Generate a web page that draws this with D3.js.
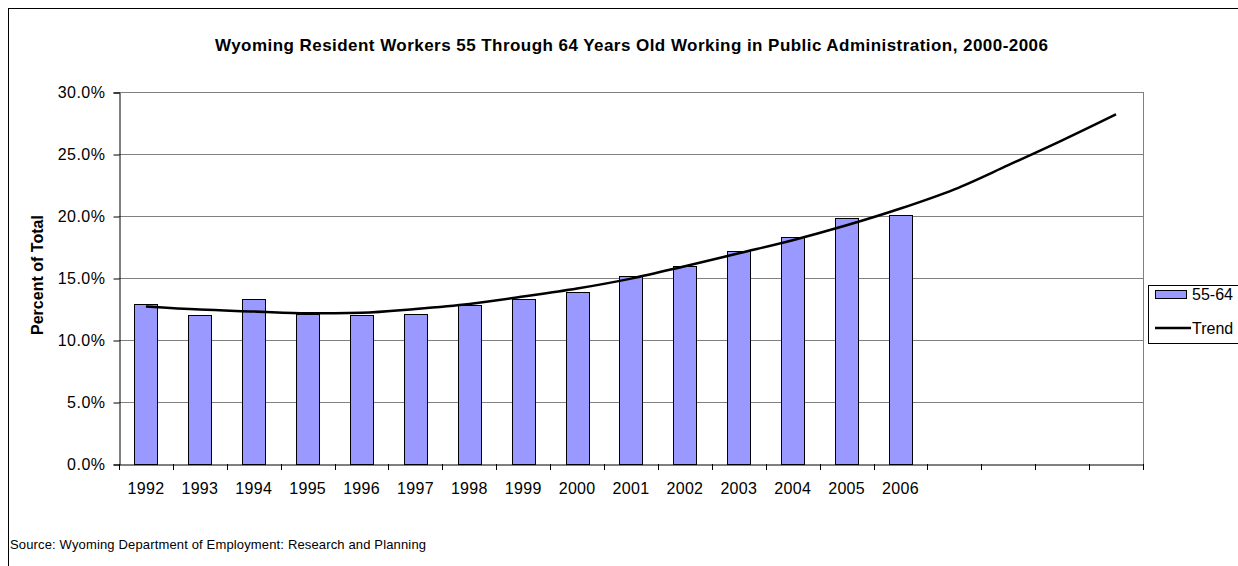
<!DOCTYPE html>
<html>
<head>
<meta charset="utf-8">
<script src="https://cdn.jsdelivr.net/npm/d3@7"></script>
<style>
  body { margin: 0; background: #fff; }
  svg { display: block; font-family: "Liberation Sans", Arial, sans-serif; }
</style>
</head>
<body>
<svg id="chart" width="1238" height="566"></svg>
<script>
// categories (four empty slots at the end carry the trend forward)
var years = ['1992', '1993', '1994', '1995', '1996', '1997', '1998', '1999', '2000',
             '2001', '2002', '2003', '2004', '2005', '2006', 'f1', 'f2', 'f3', 'f4'];
var yearLabels = ['1992', '1993', '1994', '1995', '1996', '1997', '1998', '1999', '2000',
                  '2001', '2002', '2003', '2004', '2005', '2006', '', '', '', ''];
// percent of total, 55-64 age group
var share = [12.9, 12.0, 13.3, 12.1, 12.0, 12.1, 12.8, 13.3, 13.9,
             15.2, 16.0, 17.2, 18.3, 19.8, 20.1];
// trend values
var trend = [12.7, 12.45, 12.3, 12.15, 12.2, 12.5, 12.9, 13.5, 14.15,
             14.95, 15.95, 17.0, 18.05, 19.25, 20.6, 22.15, 24.1, 26.1, 28.2];
var yTicks = [0, 5, 10, 15, 20, 25, 30];

var svg = d3.select('#chart');

var plotLeft = 119, plotRight = 1143, plotTop = 92, plotBottom = 464;
var labelFont = '16px';

var x = d3.scaleBand()
    .domain(years)
    .range([plotLeft, plotRight])
    .paddingInner(0.57)
    .paddingOuter(0.285);
var xBand = d3.scaleBand().domain(years).range([plotLeft, plotRight]);   // for ticks
var y = d3.scaleLinear().domain([0, 30]).range([plotBottom, plotTop]);

// chart area border
svg.append('rect')
    .attr('x', 8.5).attr('y', 8.5)
    .attr('width', 1240).attr('height', 570)
    .attr('fill', 'none').attr('stroke', '#000').attr('stroke-width', 1);

// title
svg.append('text')
    .attr('x', 215).attr('y', 51)
    .attr('textLength', 833).attr('lengthAdjust', 'spacing')
    .style('font-size', '17px').style('font-weight', 'bold')
    .text('Wyoming Resident Workers 55 Through 64 Years Old Working in Public Administration, 2000-2006');

// gridlines
svg.append('g').selectAll('line')
    .data(yTicks.filter(function (d) { return d > 0; }))
    .enter().append('line')
    .attr('x1', plotLeft).attr('x2', plotRight)
    .attr('y1', function (d) { return Math.round(y(d)) + 0.5; })
    .attr('y2', function (d) { return Math.round(y(d)) + 0.5; })
    .attr('stroke', '#808080').attr('stroke-width', 1);

// right edge of plot area
svg.append('line')
    .attr('x1', plotRight + 0.5).attr('x2', plotRight + 0.5)
    .attr('y1', plotTop).attr('y2', plotBottom)
    .attr('stroke', '#808080');

// y axis
var yAxis = d3.axisLeft(y)
    .tickValues(yTicks)
    .tickSize(6)
    .tickPadding(8)
    .tickFormat(function (d) { return d.toFixed(1) + '%'; });
var gy = svg.append('g')
    .attr('transform', 'translate(' + (plotLeft + 0.5) + ',0.5)')
    .call(yAxis);
gy.select('.domain').attr('stroke', '#000');
gy.selectAll('text')
    .style('font-size', labelFont).style('letter-spacing', '0.5px')
    .style('font-family', '"Liberation Sans", Arial, sans-serif').attr('fill', '#000');

// bars
svg.append('g').selectAll('rect')
    .data(share)
    .enter().append('rect')
    .attr('x', function (d, i) { return Math.round(x(years[i])) + 0.5; })
    .attr('y', function (d) { return Math.round(y(d)) + 0.5; })
    .attr('width', Math.round(x.bandwidth()))
    .attr('height', function (d) { return Math.round(plotBottom - y(d)); })
    .attr('fill', '#9999ff')
    .attr('stroke', '#000').attr('stroke-width', 1);

// x axis
var xAxis = d3.axisBottom(xBand).tickSize(0).tickPadding(18)
    .tickFormat(function (d, i) { return yearLabels[i]; });
var gx = svg.append('g')
    .attr('transform', 'translate(0,' + (plotBottom + 0.5) + ')')
    .call(xAxis);
gx.select('.domain').attr('stroke', '#000');
gx.selectAll('text')
    .style('font-size', labelFont).style('letter-spacing', '0.3px')
    .style('font-family', '"Liberation Sans", Arial, sans-serif').attr('fill', '#000');
// tick marks at category boundaries
svg.append('g').selectAll('line')
    .data(years.concat(['end']))
    .enter().append('line')
    .attr('x1', function (d, i) { return Math.round(plotLeft + i * xBand.step()) + 0.5; })
    .attr('x2', function (d, i) { return Math.round(plotLeft + i * xBand.step()) + 0.5; })
    .attr('y1', plotBottom).attr('y2', plotBottom + 6)
    .attr('stroke', '#000');

// trend line
var line = d3.line()
    .x(function (d, i) { return xBand(years[i]) + xBand.bandwidth() / 2; })
    .y(function (d) { return y(d); })
    .curve(d3.curveMonotoneX);
svg.append('path')
    .datum(trend)
    .attr('d', line)
    .attr('fill', 'none')
    .attr('stroke', '#000').attr('stroke-width', 2.5);

// y axis title
svg.append('text')
    .attr('transform', 'translate(43,275) rotate(-90)')
    .attr('text-anchor', 'middle')
    .attr('textLength', 120).attr('lengthAdjust', 'spacing')
    .style('font-size', '16px').style('font-weight', 'bold')
    .text('Percent of Total');

// legend
var lg = svg.append('g');
lg.append('rect')
    .attr('x', 1148.5).attr('y', 285.5).attr('width', 100).attr('height', 58)
    .attr('fill', '#fff').attr('stroke', '#000');
lg.append('rect')
    .attr('x', 1155.5).attr('y', 290.5).attr('width', 31).attr('height', 8)
    .attr('fill', '#9999ff').attr('stroke', '#000');
lg.append('text').attr('x', 1192).attr('y', 300)
    .style('font-size', labelFont).text('55-64');
lg.append('line')
    .attr('x1', 1155).attr('x2', 1191).attr('y1', 328).attr('y2', 328)
    .attr('stroke', '#000').attr('stroke-width', 2.5);
lg.append('text').attr('x', 1192).attr('y', 334)
    .style('font-size', labelFont).text('Trend');

// source note
svg.append('text')
    .attr('x', 10).attr('y', 549)
    .attr('textLength', 416).attr('lengthAdjust', 'spacing')
    .style('font-size', '13px')
    .text('Source: Wyoming Department of Employment: Research and Planning');
</script>
</body>
</html>
